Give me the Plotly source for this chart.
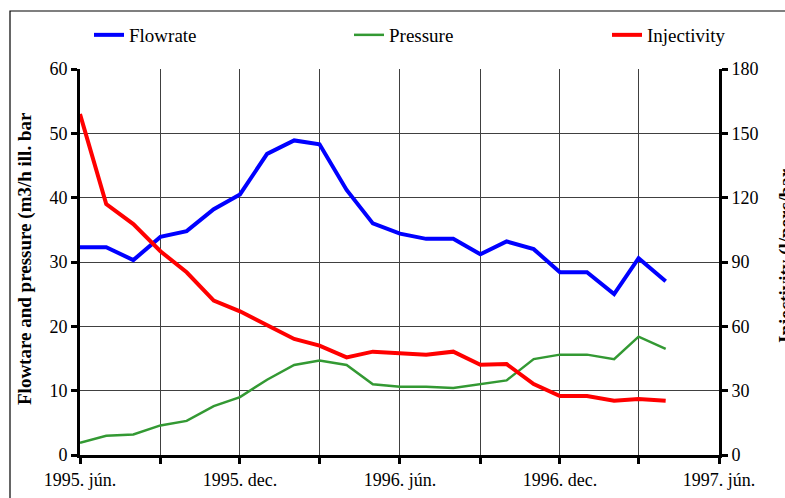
import plotly.graph_objects as go

months = ["1995-06-01", "1995-07-01", "1995-08-01", "1995-09-01", "1995-10-01", "1995-11-01",
          "1995-12-01", "1996-01-01", "1996-02-01", "1996-03-01", "1996-04-01", "1996-05-01",
          "1996-06-01", "1996-07-01", "1996-08-01", "1996-09-01", "1996-10-01", "1996-11-01",
          "1996-12-01", "1997-01-01", "1997-02-01", "1997-03-01", "1997-04-01"]

flowrate = [32.3, 32.3, 30.3, 33.9, 34.8, 38.2, 40.5, 46.8, 48.9, 48.3, 41.2, 36.0,
            34.4, 33.6, 33.6, 31.2, 33.2, 32.0, 28.4, 28.4, 25.0, 30.6, 27.0]
pressure = [1.9, 3.0, 3.2, 4.6, 5.3, 7.6, 9.0, 11.7, 14.0, 14.7, 14.0, 11.0,
            10.6, 10.6, 10.4, 11.0, 11.6, 14.9, 15.6, 15.6, 14.9, 18.4, 16.5]
injectivity = [159, 117, 107.7, 95, 85.2, 72, 67, 60.3, 54.1, 51, 45.5, 48.2,
               47.4, 46.8, 48.2, 42.1, 42.4, 33.1, 27.5, 27.5, 25.3, 26.1, 25.3]

x_tickvals = ["1995-06-01", "1995-09-01", "1995-12-01", "1996-03-01", "1996-06-01",
              "1996-09-01", "1996-12-01", "1997-03-01", "1997-06-01"]
x_ticktext = ["1995. jún.", "", "1995. dec.", "", "1996. jún.", "", "1996. dec.", "", "1997. jún."]

left_title = "Flowtare and pressure (m3/h ill. bar"
right_title = "Injectivity (l/perc/bar"

FONT = "Liberation Serif, Times New Roman, serif"
W, H = 785, 498
ML, MR, MT, MB = 80, 66, 69, 43
PW, PH = W - ML - MR, H - MT - MB


def px(xp):
    return (xp - ML) / PW


def py(yp):
    return (H - MB - yp) / PH


fig = go.Figure()
fig.add_trace(go.Scatter(x=months, y=flowrate, name="Flowrate", mode="lines",
                         line=dict(color="#0000FF", width=4), legend="legend"))
fig.add_trace(go.Scatter(x=months, y=pressure, name="Pressure", mode="lines",
                         line=dict(color="#339933", width=2.5), legend="legend2"))
fig.add_trace(go.Scatter(x=months, y=injectivity, name="Injectivity", mode="lines",
                         line=dict(color="#FF0000", width=4), yaxis="y2", legend="legend3"))

axis_common = dict(showline=True, linecolor="black", linewidth=3,
                   gridcolor="#404040", gridwidth=1, zeroline=False,
                   tickfont=dict(family=FONT, size=18, color="black"),
                   ticks="outside", ticklen=6, tickwidth=2.5, tickcolor="black")


def legend_at(xpix):
    return dict(orientation="h", x=px(xpix), xanchor="left", y=py(35), yanchor="middle",
                font=dict(family=FONT, size=19, color="black"),
                bgcolor="rgba(0,0,0,0)", itemwidth=30)


fig.update_layout(
    width=W, height=H,
    margin=dict(l=ML, r=MR, t=MT, b=MB, pad=0, autoexpand=False),
    paper_bgcolor="white", plot_bgcolor="white",
    font=dict(family=FONT, size=18, color="black"),
    showlegend=True,
    legend=legend_at(89),
    legend2=legend_at(349),
    legend3=legend_at(607),
    xaxis=dict(type="date", range=["1995-06-01", "1997-06-01"],
               tickvals=x_tickvals, ticktext=x_ticktext, showgrid=True,
               **axis_common),
    yaxis=dict(range=[0, 60], dtick=10, showgrid=True, **axis_common),
    yaxis2=dict(range=[0, 180], dtick=30, overlaying="y", side="right", showgrid=False,
                **axis_common),
    yaxis3=dict(range=[0, 60], dtick=10, overlaying="y", side="left", anchor="x",
                showgrid=False, showticklabels=False, showline=False, zeroline=False,
                ticks="inside", ticklen=6, tickwidth=2.5, tickcolor="black"),
    yaxis4=dict(range=[0, 180], dtick=30, overlaying="y", side="right", anchor="x",
                showgrid=False, showticklabels=False, showline=False, zeroline=False,
                ticks="inside", ticklen=6, tickwidth=2.5, tickcolor="black"),
)

fig.add_annotation(text="<b>" + left_title + "</b>", xref="paper", yref="paper",
                   x=px(25), y=py(259), xanchor="center", yanchor="middle",
                   textangle=-90, showarrow=False,
                   font=dict(family=FONT, size=19, color="black"))
fig.add_annotation(text="<b>" + right_title + "</b>", xref="paper", yref="paper",
                   x=px(786), y=py(256), xanchor="center", yanchor="middle",
                   textangle=-90, showarrow=False,
                   font=dict(family=FONT, size=19, color="black"))

fig.add_shape(type="rect", xref="paper", yref="paper",
              x0=px(10), x1=px(900), y0=py(11), y1=py(600),
              line=dict(color="black", width=1.2), fillcolor="rgba(0,0,0,0)", layer="below")

fig.write_html("out.html", config={"displayModeBar": False},
               post_script="document.body.style.margin='0';document.body.style.overflow='hidden';")
